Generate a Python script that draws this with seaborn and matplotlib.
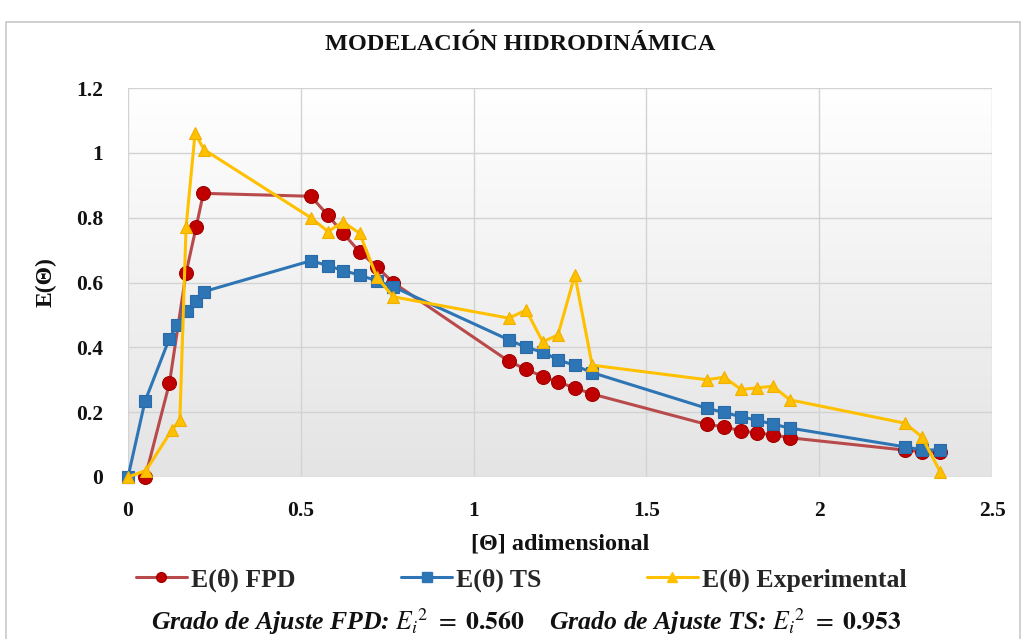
import numpy as np
import pandas as pd
import matplotlib
matplotlib.use("Agg")
import matplotlib.pyplot as plt
from matplotlib.colors import LinearSegmentedColormap
from matplotlib.patches import Rectangle
from matplotlib.lines import Line2D
import seaborn as sns

# Dimensionless time and E(θ) values for each series
theta_fpd = [0.05, 0.12, 0.168, 0.197, 0.218, 0.529, 0.579, 0.622, 0.670, 0.720, 0.767,
             1.102, 1.152, 1.200, 1.244, 1.293, 1.343,
             1.675, 1.725, 1.774, 1.820, 1.866, 1.915, 2.248, 2.297, 2.350]
e_fpd = [0.0, 0.29, 0.63, 0.77, 0.875, 0.866, 0.807, 0.752, 0.695, 0.648, 0.600,
         0.357, 0.332, 0.310, 0.293, 0.275, 0.256,
         0.162, 0.155, 0.142, 0.136, 0.130, 0.121, 0.083, 0.078, 0.077]

theta_ts = [0.0, 0.049, 0.119, 0.142, 0.170, 0.196, 0.220, 0.529, 0.579, 0.622, 0.670, 0.720, 0.767,
            1.102, 1.152, 1.200, 1.244, 1.293, 1.343,
            1.675, 1.725, 1.774, 1.820, 1.866, 1.915, 2.248, 2.297, 2.350]
e_ts = [0.0, 0.233, 0.425, 0.470, 0.512, 0.543, 0.572, 0.667, 0.652, 0.637, 0.623, 0.605, 0.587,
        0.423, 0.400, 0.385, 0.362, 0.344, 0.322,
        0.212, 0.199, 0.186, 0.175, 0.163, 0.151, 0.093, 0.084, 0.083]

theta_exp = [0.0, 0.052, 0.127, 0.150, 0.168, 0.194, 0.220, 0.529, 0.579, 0.622, 0.670, 0.720, 0.767,
             1.102, 1.152, 1.200, 1.244, 1.293, 1.343,
             1.675, 1.725, 1.774, 1.820, 1.866, 1.915, 2.248, 2.297, 2.350]
e_exp = [0.0, 0.02, 0.145, 0.175, 0.770, 1.060, 1.010, 0.800, 0.757, 0.787, 0.752, 0.617, 0.556,
         0.490, 0.515, 0.417, 0.438, 0.623, 0.345,
         0.300, 0.308, 0.270, 0.275, 0.280, 0.238, 0.166, 0.124, 0.016]

x_ticks = [0, 0.5, 1, 1.5, 2, 2.5]
x_tick_labels = ["0", "0.5", "1", "1.5", "2", "2.5"]
y_ticks = [0, 0.2, 0.4, 0.6, 0.8, 1.0, 1.2]
y_tick_labels = ["0", "0.2", "0.4", "0.6", "0.8", "1", "1.2"]

series_names = ["E(θ) FPD", "E(θ) TS", "E(θ) Experimental"]

sns.set_theme(style="white")
plt.rcParams["font.family"] = ["Liberation Serif", "DejaVu Serif"]
plt.rcParams["mathtext.fontset"] = "stix"

fig = plt.figure(figsize=(10.26, 6.39), dpi=100)
ax = fig.add_axes([128 / 1026, 1 - 477 / 639, (992 - 128) / 1026, (477 - 88) / 639])

# outer chart frame
fig.patches.append(Rectangle((0.006, -0.02), 0.988, 1.005 - 0.02, transform=fig.transFigure,
                             fill=False, edgecolor="#C8C8C8", linewidth=1.2, zorder=0))

# plot-area background: white at the top fading to light gray
grad = LinearSegmentedColormap.from_list("bg", ["#E4E4E4", "#FFFFFF"])
ax.imshow(np.linspace(0, 1, 256)[:, None], extent=[0, 1, 0, 1], transform=ax.transAxes,
          cmap=grad, aspect="auto", origin="lower", zorder=0)

red_line, red_mark = "#B94A4C", "#C00000"
blue = "#2E75B6"
gold = "#FFC000"

df_fpd = pd.DataFrame({"theta": theta_fpd, "E": e_fpd})
df_ts = pd.DataFrame({"theta": theta_ts, "E": e_ts})
df_exp = pd.DataFrame({"theta": theta_exp, "E": e_exp})

sns.lineplot(data=df_fpd, x="theta", y="E", ax=ax, sort=False, color=red_line, linewidth=2.2,
             marker="o", markersize=10, markerfacecolor=red_mark, markeredgecolor="#A00000",
             markeredgewidth=0.8, zorder=3, clip_on=False)
sns.lineplot(data=df_ts, x="theta", y="E", ax=ax, sort=False, color=blue, linewidth=2.2,
             marker="s", markersize=8.5, markerfacecolor=blue, markeredgecolor="#2A6AA6",
             markeredgewidth=0.8, zorder=4, clip_on=False)
sns.lineplot(data=df_exp, x="theta", y="E", ax=ax, sort=False, color=gold, linewidth=2.2,
             marker="^", markersize=9, markerfacecolor=gold, markeredgecolor="#F0B000",
             markeredgewidth=0.8, zorder=5, clip_on=False)

ax.set_xlim(0, 2.5)
ax.set_ylim(0, 1.2)
ax.set_xticks(x_ticks)
ax.set_xticklabels(x_tick_labels)
ax.set_yticks(y_ticks)
ax.set_yticklabels(y_tick_labels)
ax.tick_params(axis="both", length=0, labelsize=15.5, colors="#111111")
ax.tick_params(axis="y", pad=18)
ax.tick_params(axis="x", pad=17)
for lab in ax.get_xticklabels() + ax.get_yticklabels():
    lab.set_fontweight("bold")
ax.set_axisbelow(True)
ax.grid(True, color="#D3D3D3", linewidth=1.0)
for s in ax.spines.values():
    s.set_visible(False)

ax.set_xlabel("[Θ] adimensional", fontsize=17.5, fontweight="bold", labelpad=9, color="#111111")
ax.set_ylabel("E(Θ)", fontsize=17, fontweight="bold", labelpad=14, color="#111111")

fig.text(0.507, 1 - 45 / 639, "MODELACIÓN HIDRODINÁMICA", ha="center", va="center",
         fontsize=17.5, fontweight="bold", color="#111111")

handles = [
    Line2D([], [], color=red_line, lw=2.2, marker="o", markersize=7, markerfacecolor=red_mark,
           markeredgecolor="#A00000"),
    Line2D([], [], color=blue, lw=2.2, marker="s", markersize=6.5, markerfacecolor=blue,
           markeredgecolor=blue),
    Line2D([], [], color=gold, lw=2.2, marker="^", markersize=7, markerfacecolor=gold,
           markeredgecolor=gold),
]
fig.legend(handles, series_names, loc="center", bbox_to_anchor=(0.508, 1 - 580 / 639), ncol=3,
           frameon=False, handlelength=2.0, handletextpad=0.15, columnspacing=4.1,
           prop={"family": "Liberation Serif", "weight": "bold", "size": 18.5})

fig.text(0.513, 1 - 622 / 639,
         r"Grado de Ajuste FPD: $E_i{}^{2}\ =\ \mathbf{0.560}$    "
         r"Grado de Ajuste TS: $E_i{}^{2}\ =\ \mathbf{0.953}$",
         ha="center", va="center", fontsize=18.5, fontweight="bold", fontstyle="italic",
         color="#111111")

fig.savefig("out.png", dpi=100, facecolor="white")
